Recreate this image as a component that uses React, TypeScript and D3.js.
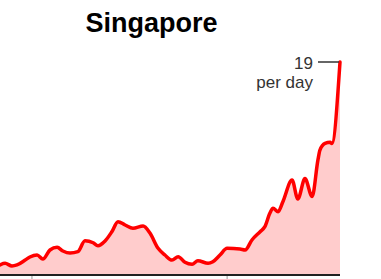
import React, { useEffect, useRef } from 'react'
import * as d3 from 'd3'

// day index and 7-day average per day
const days = [
  0, 1.5, 3.5, 5, 7.4, 8.8, 10.9, 12.6, 14.7, 16.8, 18.5, 20.6, 22.9, 25, 27.4, 28.8, 30.9, 32.9, 34.7,
  36.8, 39.1, 42.1, 44.1, 46.5, 48.5, 50.6, 52.4, 54.4, 56.5, 58.2, 61.2, 62.6, 64.7, 66.8, 70.6, 72.1,
  74.1, 76.5, 77.9, 79.4, 80.3, 81.8, 83.2, 85.9, 87.6, 89.7, 91.8, 93.5, 94.1, 95.6, 97.1, 97.6, 100
]
const values = [
  0.81, 0.96, 0.72, 0.81, 1.25, 1.52, 1.7, 1.34, 2.15, 2.39, 2.06, 1.88, 2.0, 2.98, 2.8, 2.54, 2.96, 3.79,
  4.69, 4.39, 4.1, 4.3, 3.67, 2.3, 1.7, 1.25, 1.55, 1.05, 0.87, 1.19, 0.96, 1.1, 1.7, 2.3, 2.24, 2.15,
  3.05, 3.79, 4.24, 5.47, 5.89, 5.58, 6.48, 8.42, 6.72, 8.56, 6.94, 10.2, 11.1, 11.7, 11.8, 11.7, 19
]
const tickDays = [9.4, 66.8]
const title = 'Singapore'
const labelValue = '19'
const labelUnit = 'per day'

const App = () => {
  const ref = useRef<SVGSVGElement>(null)

  useEffect(() => {
    const svg = d3.select(ref.current)
    svg.selectAll('*').remove()

    const data = days.map((d, i) => ({ x: d, y: values[i] }))
    const xScale = d3.scaleLinear().domain([0, 100]).range([0, 340])
    const yScale = d3.scaleLinear().domain([0, 19]).range([274, 62])

    svg
      .append('text')
      .attr('x', 151.5)
      .attr('y', 32)
      .attr('text-anchor', 'middle')
      .attr('font-family', 'Liberation Sans, Arial, sans-serif')
      .attr('font-weight', 'bold')
      .attr('font-size', 27)
      .attr('fill', '#000')
      .text(title)

    const area = d3
      .area<{ x: number; y: number }>()
      .x(d => xScale(d.x))
      .y0(yScale(0))
      .y1(d => yScale(d.y))
      .curve(d3.curveMonotoneX)

    const line = d3
      .line<{ x: number; y: number }>()
      .x(d => xScale(d.x))
      .y(d => yScale(d.y))
      .curve(d3.curveMonotoneX)

    svg.append('path').attr('d', area(data)).attr('fill', '#ffcccc')

    // x axis
    const axis = svg.append('g').attr('transform', `translate(0, ${yScale(0) + 1})`)
    axis
      .selectAll('line.tick')
      .data(tickDays)
      .join('line')
      .attr('class', 'tick')
      .attr('x1', d => xScale(d))
      .attr('x2', d => xScale(d))
      .attr('y1', 0)
      .attr('y2', 6)
      .attr('stroke', '#999')
      .attr('stroke-width', 1)
    axis
      .append('line')
      .attr('x1', 0)
      .attr('x2', xScale(100))
      .attr('y1', 0)
      .attr('y2', 0)
      .attr('stroke', '#222')
      .attr('stroke-width', 2)

    svg
      .append('path')
      .attr('d', line(data))
      .attr('fill', 'none')
      .attr('stroke', '#ff0000')
      .attr('stroke-width', 3.5)
      .attr('stroke-linejoin', 'round')
      .attr('stroke-linecap', 'round')

    // label for latest value
    const last = data[data.length - 1]
    svg
      .append('line')
      .attr('x1', xScale(last.x) - 22)
      .attr('x2', xScale(last.x) - 1)
      .attr('y1', yScale(last.y))
      .attr('y2', yScale(last.y))
      .attr('stroke', '#333')
      .attr('stroke-width', 1.5)

    const label = svg
      .append('text')
      .attr('text-anchor', 'end')
      .attr('font-family', 'Liberation Sans, Arial, sans-serif')
      .attr('font-size', 17)
      .attr('fill', '#333')
    label
      .append('tspan')
      .attr('x', xScale(last.x) - 27)
      .attr('y', yScale(last.y) + 7)
      .text(labelValue)
    label
      .append('tspan')
      .attr('x', xScale(last.x) - 27)
      .attr('y', yScale(last.y) + 26)
      .text(labelUnit)
  }, [])

  return (
    <svg
      ref={ref}
      width={381}
      height={279}
      style={{ position: 'absolute', left: 0, top: 0, display: 'block', background: '#fff' }}
    />
  )
}

export default App
